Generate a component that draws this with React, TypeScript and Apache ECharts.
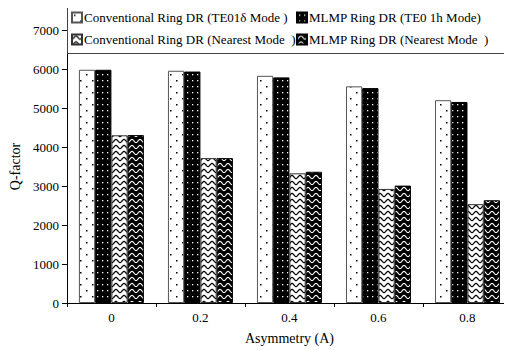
import React, { useEffect, useRef } from "react";
import * as echarts from "echarts";

const categories = ["0", "0.2", "0.4", "0.6", "0.8"];
const seriesNames = [
  "Conventional Ring DR (TE01δ Mode )",
  "MLMP Ring DR (TE0 1h Mode)",
  "Conventional Ring DR (Nearest Mode  )",
  "MLMP Ring DR (Nearest Mode  )",
];
const convTE = [5980, 5955, 5825, 5555, 5200];
const mlmpTE = [5980, 5935, 5785, 5510, 5155];
const convNearest = [4300, 3715, 3325, 2925, 2535];
const mlmpNearest = [4305, 3715, 3365, 3010, 2635];
const yTicks = { min: 0, max: 7000, interval: 1000 };

const FONT = "Liberation Serif";

function makeCanvas(w: number, h: number, draw: (c: CanvasRenderingContext2D) => void) {
  const cv = document.createElement("canvas");
  cv.width = w;
  cv.height = h;
  const ctx = cv.getContext("2d")!;
  draw(ctx);
  return { image: cv, repeat: "repeat", imageWidth: w, imageHeight: h } as any;
}

function dotsPattern() {
  return makeCanvas(12, 12, (c) => {
    c.fillStyle = "#fff";
    c.fillRect(0, 0, 12, 12);
    c.fillStyle = "#000";
    c.fillRect(2, 2, 1.5, 1.5);
    c.fillRect(8, 8, 1.5, 1.5);
  });
}
function blackDotsPattern() {
  return makeCanvas(5, 6, (c) => {
    c.fillStyle = "#000";
    c.fillRect(0, 0, 5, 6);
    c.fillStyle = "#fff";
    c.fillRect(2, 2, 1.3, 1.3);
  });
}
function wavePattern(bg: string, fg: string, lw: number) {
  return makeCanvas(8, 6, (c) => {
    c.fillStyle = bg;
    c.fillRect(0, 0, 8, 6);
    c.strokeStyle = fg;
    c.lineWidth = lw;
    c.beginPath();
    for (let i = -1; i <= 9; i += 0.25) {
      const y = 3 + 1.6 * Math.cos((2 * Math.PI * i) / 8);
      if (i === -1) c.moveTo(i, y);
      else c.lineTo(i, y);
    }
    c.stroke();
  });
}

export default function App() {
  const ref = useRef<HTMLDivElement>(null);
  useEffect(() => {
    if (!ref.current) return;
    const chart = echarts.init(ref.current, undefined, { renderer: "svg" });
    const fills = [
      dotsPattern(),
      blackDotsPattern(),
      wavePattern("#fff", "#000", 1.3),
      wavePattern("#000", "#fff", 1.1),
    ];
    const borders = ["#555", "#000", "#333", "#000"];
    const datas = [convTE, mlmpTE, convNearest, mlmpNearest];
    const legendPos = [
      { left: 71, top: 11 },
      { left: 296, top: 11 },
      { left: 71, top: 33 },
      { left: 296, top: 33 },
    ];
    chart.setOption({
      animation: false,
      backgroundColor: "#fff",
      textStyle: { fontFamily: FONT },
      grid: { left: 65, top: 30, width: 455, height: 275 },
      legend: seriesNames.map((n, i) => ({
        data: [{ name: n, icon: "rect" }],
        ...legendPos[i],
        padding: 0,
        itemWidth: 10,
        itemHeight: 10,
        z: 10,
        textStyle: { fontFamily: FONT, fontSize: 13, color: "#000", padding: [0, 0, 0, -3] },
      })),
      graphic: [
        {
          type: "rect",
          shape: { x: 67.5, y: 7.5, width: 440, height: 46 },
          style: { fill: "#fff", stroke: "#444", lineWidth: 1 },
          z: 5,
        },
      ],
      xAxis: {
        type: "category",
        data: categories,
        name: "Asymmetry (A)",
        nameLocation: "middle",
        nameGap: 28,
        nameTextStyle: { fontFamily: FONT, fontSize: 14, color: "#000" },
        axisLine: { lineStyle: { color: "#000", width: 1 } },
        axisTick: { show: true, length: 4, lineStyle: { color: "#000" } },
        axisLabel: { fontFamily: FONT, fontSize: 13, color: "#000", margin: 8 },
      },
      yAxis: {
        type: "value",
        ...yTicks,
        name: "Q-factor",
        nameLocation: "middle",
        nameGap: 42,
        nameTextStyle: { fontFamily: FONT, fontSize: 14, color: "#000" },
        axisLine: { show: true, lineStyle: { color: "#000", width: 1 } },
        axisTick: { show: true, length: 5, lineStyle: { color: "#000" } },
        axisLabel: {
          fontFamily: FONT,
          fontSize: 13,
          color: "#000",
          margin: 8,
          formatter: (v: number) => String(v),
        },
        splitLine: { show: false },
      },
      series: seriesNames.map((n, i) => ({
        name: n,
        type: "bar",
        data: datas[i],
        barGap: "0%",
        barCategoryGap: "27%",
        itemStyle: { color: fills[i], borderColor: borders[i], borderWidth: 1 },
      })),
    });
    return () => chart.dispose();
  }, []);
  return <div ref={ref} style={{ width: 512, height: 350, marginLeft: -8, marginTop: -8 }} />;
}
